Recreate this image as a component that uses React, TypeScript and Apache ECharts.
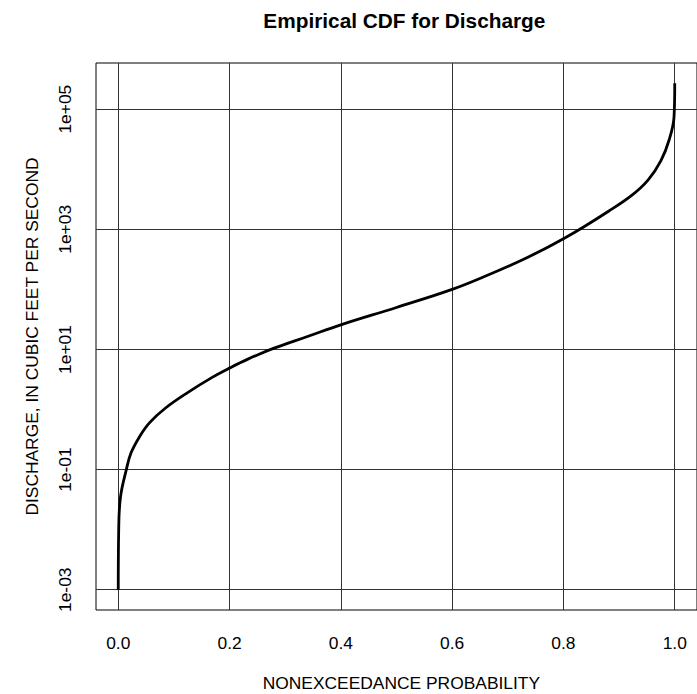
import React, { useEffect, useRef } from "react";
import * as echarts from "echarts";

// Nonexceedance probability of each plotted point
const probability = [
  0, 0.0008, 0.004, 0.0145, 0.023, 0.038, 0.056, 0.085, 0.126, 0.168, 0.2,
  0.233, 0.28, 0.34, 0.4, 0.5, 0.6, 0.657, 0.716, 0.763, 0.8, 0.834, 0.881,
  0.922, 0.952, 0.975, 0.99, 0.9988, 1.0,
];

// Discharge, in cubic feet per second, at each probability
const discharge = [
  0.001, 0.01, 0.035, 0.1, 0.19, 0.35, 0.6, 1.06, 1.95, 3.4, 4.9, 6.9, 10.5,
  16.4, 25.7, 50, 100, 162, 280, 456, 698, 1064, 2000, 3630, 6600, 13800,
  31000, 76000, 270000,
];

const xTicks = [0, 0.2, 0.4, 0.6, 0.8, 1.0];
// Decades (log10 of discharge) that carry a label and a grid line
const yTickDecades = [-3, -1, 1, 3, 5];

const TITLE = "Empirical CDF for Discharge";
const X_NAME = "NONEXCEEDANCE PROBABILITY";
const Y_NAME = "DISCHARGE, IN CUBIC FEET PER SECOND";

const FONT = "'Liberation Sans', Arial, Helvetica, sans-serif";
const FS = 17.4;

const W = 697;
const H = 694;

// Axis ranges padded by 4% on each side of the data range
function padded(lo: number, hi: number): [number, number] {
  const d = (hi - lo) * 0.04;
  return [lo - d, hi + d];
}

function sciLabel(v: number): string {
  const e = Math.round(v);
  const sign = e < 0 ? "-" : "+";
  const abs = Math.abs(e);
  return "1e" + sign + (abs < 10 ? "0" + abs : String(abs));
}

export default function App() {
  const ref = useRef<HTMLDivElement>(null);

  useEffect(() => {
    if (!ref.current) return;
    const chart = echarts.init(ref.current, null, {
      renderer: "svg",
      width: W,
      height: H,
    });

    const logQ = discharge.map((q) => Math.log10(q));
    const [xMin, xMax] = padded(Math.min(...probability), Math.max(...probability));
    const [yMin, yMax] = padded(Math.min(...logQ), Math.max(...logQ));

    const gridLeft = 96;
    const gridTop = 63;
    const gridHeight = 547;
    const pxPerUnitX = 565.5;
    const gridWidth = (xMax - xMin) * pxPerUnitX;
    const centerX = gridLeft + gridWidth / 2;
    const centerY = gridTop + gridHeight / 2;

    const gridLine = { show: true, lineStyle: { color: "#333", width: 1 } };

    chart.setOption({
      animation: false,
      backgroundColor: "#fff",
      grid: {
        left: gridLeft,
        top: gridTop,
        width: gridWidth,
        height: gridHeight,
        show: true,
        borderColor: "#000",
        borderWidth: 1,
        backgroundColor: "transparent",
        containLabel: false,
      },
      xAxis: {
        type: "value",
        min: xMin,
        max: xMax,
        axisLine: { show: false },
        axisTick: { show: false, customValues: xTicks },
        axisLabel: {
          customValues: xTicks,
          formatter: (v: number) => v.toFixed(1),
          color: "#000",
          fontFamily: FONT,
          fontSize: FS,
          margin: 24,
        },
        splitLine: gridLine,
      },
      yAxis: {
        type: "value",
        min: yMin,
        max: yMax,
        axisLine: { show: false },
        axisTick: { show: false, customValues: yTickDecades },
        axisLabel: {
          customValues: yTickDecades,
          formatter: (v: number) => sciLabel(v),
          rotate: 90,
          color: "#000",
          fontFamily: FONT,
          fontSize: FS,
          margin: 23,
        },
        splitLine: gridLine,
      },
      graphic: [
        {
          type: "text",
          x: centerX + 3,
          y: 20,
          style: {
            text: TITLE,
            fill: "#000",
            font: `bold 20.8px ${FONT}`,
            align: "center",
            verticalAlign: "middle",
          },
        },
        {
          type: "text",
          x: centerX,
          y: 683,
          style: {
            text: X_NAME,
            fill: "#000",
            font: `${FS}px ${FONT}`,
            align: "center",
            verticalAlign: "middle",
          },
        },
        {
          type: "text",
          x: 32,
          y: centerY,
          rotation: Math.PI / 2,
          style: {
            text: Y_NAME,
            fill: "#000",
            font: `${FS}px ${FONT}`,
            align: "center",
            verticalAlign: "middle",
          },
        },
      ],
      series: [
        {
          type: "line",
          data: probability.map((p, i) => [p, logQ[i]]),
          showSymbol: false,
          smooth: 0.4,
          lineStyle: { color: "#000", width: 2.8 },
          z: 5,
        },
      ],
    });

    return () => chart.dispose();
  }, []);

  return (
    <div
      ref={ref}
      style={{ position: "fixed", left: 0, top: 0, width: W, height: H }}
    />
  );
}
